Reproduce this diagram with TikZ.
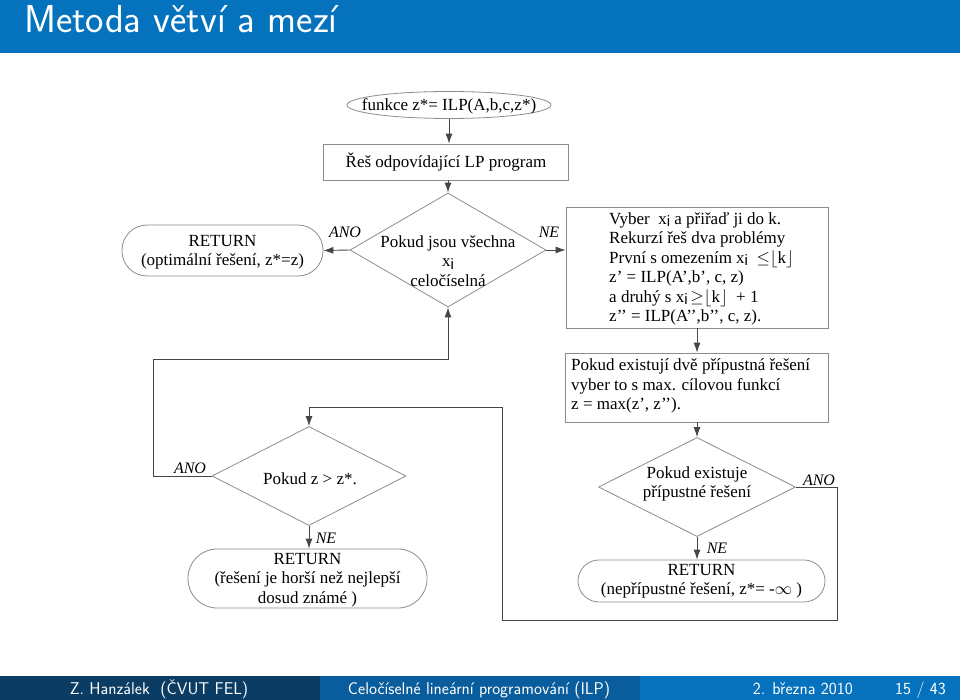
\documentclass[tikz,border=0pt]{standalone}
\usepackage{fontspec}
\setmainfont{Liberation Serif}
\newfontfamily\subsans{Liberation Sans}
\usetikzlibrary{shapes.geometric,arrows.meta}
\definecolor{titleblue}{RGB}{5,114,190}
\definecolor{footdark}{RGB}{11,60,100}
\definecolor{footmid}{RGB}{10,93,156}
\definecolor{footlight}{RGB}{6,113,189}
\definecolor{boxgray}{RGB}{140,140,140}
\definecolor{linegray}{RGB}{70,70,70}
\newcommand{\xsub}{x\raisebox{-0.3ex}{\subsans\fontsize{15}{15}\selectfont i}}
\begin{document}
\begin{tikzpicture}[x=1pt,y=-1pt,
  box/.style={draw=boxgray, line width=0.8pt, inner sep=0pt},
  txt/.style={font=\fontsize{17}{19.5}\selectfont, inner sep=0pt},
  lab/.style={font=\itshape\fontsize{16}{18}\selectfont, inner sep=0pt},
  arr/.style={draw=linegray, line width=0.9pt, -{Latex[length=10pt,width=7pt]}},
  conn/.style={draw=linegray, line width=0.9pt},
  foot/.style={text=white, font=\sffamily\fontsize{17}{19}\selectfont, inner sep=0pt}]
\useasboundingbox (0,0) rectangle (960,700);
% title bar
\fill[titleblue] (0,0) rectangle (960,53);
\node[anchor=base west, text=white, font=\sffamily\fontsize{39}{42}\selectfont, inner sep=0pt] (title) at (24,33) {Metoda větví a mezí};
% footer
\fill[footdark] (0,676) rectangle (320,700);
\fill[footmid] (320,676) rectangle (640,700);
\fill[footlight] (640,676) rectangle (960,700);
\node[foot, anchor=base] (fa) at (159,694) {Z. Hanzálek\ \ (ČVUT FEL)};
\node[foot, anchor=base] (fb) at (479,694) {Celočíselné lineární programování (ILP)};
\node[foot, anchor=base east] (fc) at (853,694) {2. března 2010};
\node[foot, anchor=base east] (fd) at (946,694) {15 / 43};

% shapes
\node[box, ellipse, minimum width=204pt, minimum height=27pt] (e0) at (449,105) {};
\node[txt] (e0t) at (449,106) {funkce z*= ILP(A,b,c,z*)};
\node[box, minimum width=245pt, minimum height=36pt] (r1) at (446,162) {};
\node[txt] (r1t) at (446,162) {Řeš odpovídající LP program};
\node[box, diamond, minimum width=196pt, minimum height=114pt] (d1) at (448,250) {};
\node[txt, align=center] (d1t) at (448,261) {Pokud jsou všechna\\\xsub\\celočíselná};
\node[box, rounded corners=25pt, minimum width=201pt, minimum height=51pt] (ret1) at (222.5,250.5) {};
\node[txt, align=center] (ret1t) at (222.5,252) {RETURN\\(optimální řešení, z*=z)};
\node[box, minimum width=262pt, minimum height=121pt] (b1) at (697,267.5) {};
\node[txt, anchor=west, align=left] (b1t) at (609,269) {Vyber\ \ \xsub{} a přiřaď ji do k.\\Rekurzí řeš dva problémy\\První s omezením \xsub{}\ \ $\mathord{\leq}\lfloor$k$\rfloor$\\z’ = ILP(A’,b’, c, z)\\a druhý s \xsub{}\,$\mathord{\geq}\lfloor$k$\rfloor$\ \ + 1\\z’’ = ILP(A’’,b’’, c, z).};
\node[box, minimum width=263pt, minimum height=69pt] (b2) at (696.5,387.5) {};
\node[txt, anchor=west, align=left] (b2t) at (571,386) {Pokud existují dvě přípustná řešení\\vyber to s max. cílovou funkcí\\z = max(z’, z’’).};
\node[box, diamond, minimum width=197pt, minimum height=99pt] (d3) at (697,487) {};
\node[txt, align=center] (d3t) at (697,484) {Pokud existuje\\přípustné řešení};
\node[box, diamond, minimum width=194pt, minimum height=99pt] (d2) at (309,476) {};
\node[txt] (d2t) at (310,479) {Pokud z > z*.};
\node[box, rounded corners=29pt, minimum width=239pt, minimum height=59pt] (ret2) at (307.5,578.5) {};
\node[txt, align=center] (ret2t) at (307.5,580) {RETURN\\(řešení je horší než nejlepší\\dosud známé )};
\node[box, rounded corners=21pt, minimum width=247pt, minimum height=42pt] (ret3) at (701.5,581) {};
\node[txt, align=center] (ret3t) at (701.5,581) {RETURN\\(nepřípustné řešení, z*= -$\infty$ )};

% labels
\node[lab] (l1) at (345,232) {ANO};
\node[lab] (l2) at (549,232) {NE};
\node[lab] (l3) at (190,468) {ANO};
\node[lab] (l4) at (326,538) {NE};
\node[lab] (l5) at (819,480) {ANO};
\node[lab] (l6) at (717,548) {NE};

% coordinates
\coordinate (c1) at (837,487);
\coordinate (c2) at (837,620);
\coordinate (c3) at (502,620);
\coordinate (c4) at (502,407);
\coordinate (c5) at (153,476);
\coordinate (c6) at (153,359);

% connectors
\draw[arr] (e0.south) -- (e0.south |- r1.north);
\draw[arr] (r1.south -| d1.north) -- (d1.north);
\draw[arr] (d1.west) -- (ret1.east);
\draw[arr] (d1.east) -- (b1.west |- d1.east);
\draw[arr] (b1.south) -- (b1.south |- b2.north);
\draw[arr] (b2.south -| d3.north) -- (d3.north);
\draw[arr] (d3.south) -- (d3.south |- ret3.north);
\draw[arr] (d2.south) -- (d2.south |- ret2.north);
\draw[arr] (d3.east) -- (c1) -- (c2) -- (c3) -- (c4) -| (d2.north);
\draw[arr] (d2.west) -- (c5) -- (c6) -| (d1.south);
\end{tikzpicture}
\end{document}
